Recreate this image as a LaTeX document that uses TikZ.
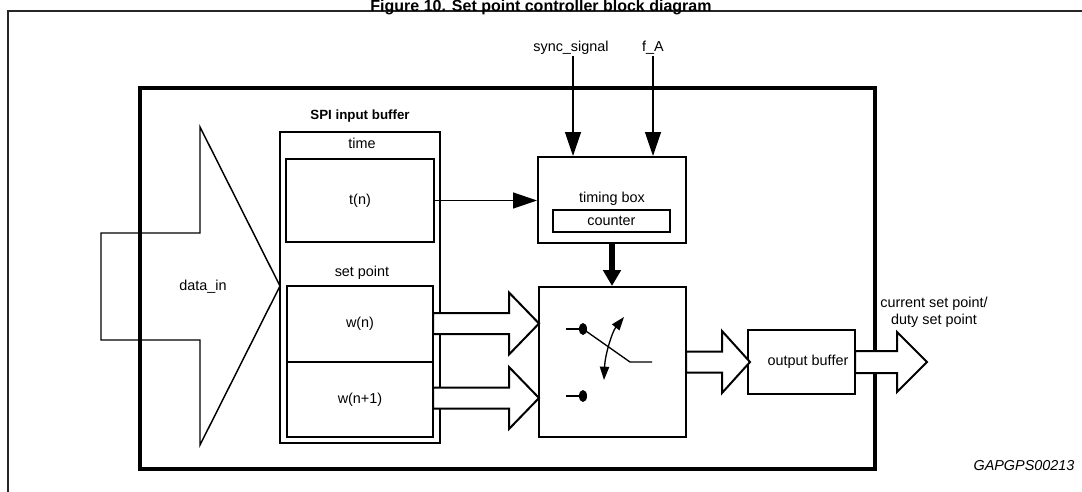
\documentclass[tikz,border=0pt]{standalone}
\usepackage{fontspec}
\setmainfont{Liberation Sans}
\usetikzlibrary{arrows.meta}

\tikzset{every picture/.style={line width=0.75pt}}
\tikzset{
  blk/.style={draw, line width=1.5pt, inner sep=0pt},
  lbl/.style={inner sep=0.75pt, font=\fontsize{10.8}{13}\selectfont},
  sig/.style={line width=1pt, -{Triangle[length=18pt,width=12pt]}},
  fat/.style={draw, line width=1.5pt, fill=white, line join=miter},
}

\begin{document}
\begin{tikzpicture}[x=0.75pt,y=0.75pt,yscale=-1,xscale=1]
        \useasboundingbox (0,0) rectangle (1082,492);

        %Shape: Rectangle
        \draw [line width=1pt, color=black!85] (8,11) rectangle (1100,510);
        %Shape: Rectangle
        \draw [line width=3.4pt] (140,88) rectangle (875,469);

        %Shape: Right Arrow
        \draw [line width=1.1pt, line join=miter] (101,233) -- (200,233) -- (200,127) -- (280,286) -- (200,445) -- (200,340) -- (101,340) -- cycle ;

        %Shape: Rectangle
        \node [blk, minimum width=120pt, minimum height=233.25pt] (spi) at (360,287.5) {};
        \node [blk, minimum width=111pt, minimum height=62.25pt] (tn) at (360,200.5) {};
        \node [blk, minimum width=109.5pt, minimum height=57pt] (wn) at (360,324) {};
        \node [blk, minimum width=109.5pt, minimum height=56.25pt] (wn1) at (360,399.5) {};
        \node [blk, minimum width=111pt, minimum height=64.5pt] (timing) at (612,200) {};
        \node [blk, minimum width=87.75pt, minimum height=16.5pt] (counter) at (611.5,221) {};
        \node [blk, minimum width=110.25pt, minimum height=112.5pt] (switch) at (612.5,362) {};
        \node [blk, minimum width=80.25pt, minimum height=48pt] (outbuf) at (801.5,362) {};

        %Shape: Right Arrow
        \draw [fat] (433,313) -- (509,313) -- (509,292.5) -- (539,323.5) -- (509,354.5) -- (509,334) -- (433,334) -- cycle ;
        %Shape: Right Arrow
        \draw [fat] (433,387.5) -- (509,387.5) -- (509,367) -- (539,398) -- (509,429) -- (509,408.5) -- (433,408.5) -- cycle ;
        %Shape: Right Arrow
        \draw [fat] (686,351.5) -- (722,351.5) -- (722,331) -- (750,362) -- (722,393) -- (722,372.5) -- (686,372.5) -- cycle ;
        %Shape: Right Arrow
        \draw [fat] (855,351) -- (897,351) -- (897,332) -- (927,362) -- (897,392) -- (897,373) -- (855,373) -- cycle ;

        %Switch
        \draw [line width=1pt] (566,329) -- (583,329) ;
        \fill (583,329) ellipse (4 and 6) ;
        \draw [line width=1pt] (566,396) -- (583,396) ;
        \fill (583,396) ellipse (4 and 6) ;
        \draw [line width=1pt] (583,329) -- (630,362) -- (652,362) ;
        %Curve Lines
        \draw [line width=1pt, {Triangle[length=10pt,width=7pt]}-{Triangle[length=10pt,width=7pt]}] (624,317) .. controls (612,332) and (605,355) .. (604,380) ;

        % Text Node
        \node [anchor=base, inner sep=0.75pt, font=\fontsize{12}{14}\selectfont\bfseries] (title) at (541,11.5) {Figure 10. Set point controller block diagram};
        % Text Node
        \node [inner sep=0.75pt, font=\fontsize{10}{12}\selectfont\bfseries] (spititle) at (360,116) {SPI input buffer};
        % Text Node
        \node [lbl] (timelbl) at (362,143) {time};
        \node [lbl] (tnlbl) at (tn) {t(n)};
        \node [lbl] (setlbl) at (362,273) {set point};
        \node [lbl] (wnlbl) at (wn) {w(n)};
        \node [lbl] (wn1lbl) at (wn1) {w(n+1)};
        \node [lbl] (datalbl) at (203,287) {data\_in};
        \node [lbl] (timinglbl) at (612,199) {timing box};
        \node [lbl] (counterlbl) at (counter) {counter};
        \node [lbl] (outlbl) at (808,362) {output buffer};
        \node [lbl, align=center] (currlbl) at (934,312) {current set point/\\duty set point};
        \node [lbl, font=\fontsize{10.8}{13}\selectfont\itshape] (codelbl) at (1024,466) {GAPGPS00213};
        % Text Node
        \node [lbl] (sync) at (571,48) {sync\_signal};
        \node [lbl] (fa) at (653,48) {f\_A};

        %Straight Lines
        \draw [sig] (sync.south -| 573,0) -- (573,0 |- timing.north) ;
        \draw [sig] (fa.south) -- (fa.south |- timing.north) ;
        \draw [sig] (tn.east) -- (tn.east -| timing.west) ;
        \draw [line width=5pt, -{Triangle[length=12pt,width=13pt]}] (timing.south) -- (timing.south |- switch.north) ;
\end{tikzpicture}
\end{document}
